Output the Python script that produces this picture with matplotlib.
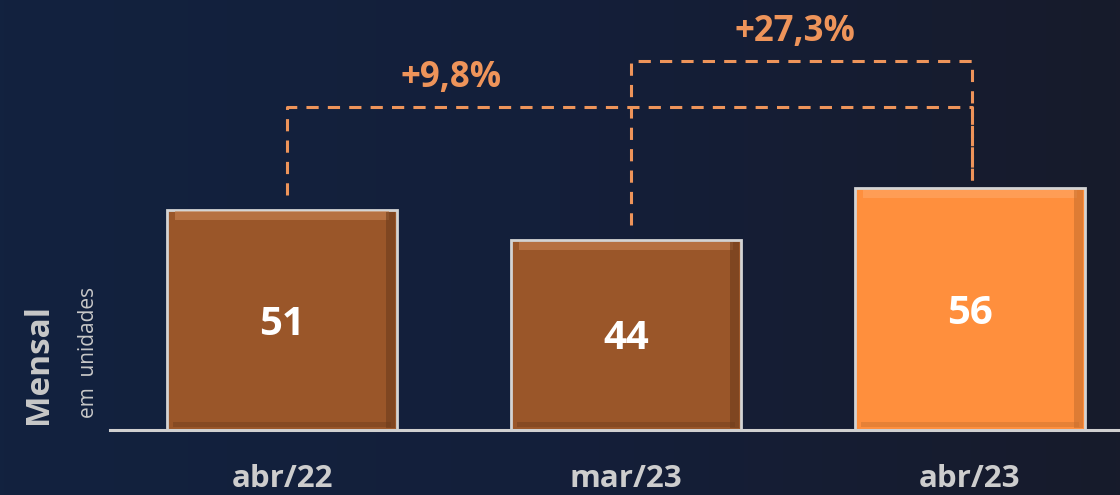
import numpy as np
import matplotlib.pyplot as plt
from matplotlib.colors import LinearSegmentedColormap

# ====== DATA ======
categories = ["abr/22", "mar/23", "abr/23"]
values = [51, 44, 56]
bar_colors = ["#9a5629", "#9a5629", "#ff8f3d"]
growth_labels = ["+9,8%", "+27,3%"]
growth_pairs = [(0, 2), (1, 2)]     # bar index from -> to
growth_levels = [74.8, 85.4]        # height of the dashed bracket
# ==================

fig = plt.figure(figsize=(11.2, 4.95), dpi=100)
ax = fig.add_axes([0, 0, 1, 1])
ax.set_xlim(-0.82, 2.436)
ax.set_ylim(-15.05, 99.5)
ax.axis("off")

# background gradient
grad = np.linspace(0, 1, 256).reshape(1, -1)
cmap = LinearSegmentedColormap.from_list("bg", ["#12223f", "#141f3a", "#171b2b"])
ax.imshow(grad, extent=[-0.82, 2.436, -15.05, 99.5], aspect="auto", cmap=cmap, zorder=0)

x = np.arange(len(categories))
w = 0.669
ax.bar(x, values, width=w, color=bar_colors, edgecolor="#d4d4d4", linewidth=2, zorder=2)

# simple bevel: light strip on top, dark strip on the right and bottom
for xi, v, c in zip(x, values, bar_colors):
    light = "#c98454" if c == "#9a5629" else "#ffa866"
    dark = "#6e3c1c" if c == "#9a5629" else "#c8702e"
    ax.bar(xi, 2.0, bottom=v - 2.4, width=w * 0.93, color=light, alpha=0.6, zorder=3, linewidth=0)
    ax.bar(xi + w / 2 - 0.02, v - 1.0, bottom=0.5, width=0.025, color=dark, alpha=0.6, zorder=3, linewidth=0)
    ax.bar(xi, 1.2, bottom=0.6, width=w * 0.95, color=dark, alpha=0.45, zorder=3, linewidth=0)

# baseline
ax.plot([-0.5, 2.436], [0, 0], color="#d0d0d0", lw=2.2, zorder=4)

# value labels
for xi, v in zip(x, values):
    ax.text(xi, v * 0.48, str(v), ha="center", va="center", color="white",
            fontsize=29, fontweight="bold", family="Open Sans", zorder=5)

# category labels
for xi, c in zip(x, categories):
    ax.text(xi, -11.4, c, ha="center", va="center", color="#cdcdcd",
            fontsize=22.5, fontweight="bold", family="Open Sans")

# growth brackets
orange = "#ee945a"
for (a, b), lvl, lab in zip(growth_pairs, growth_levels, growth_labels):
    xa = x[a] + 0.015
    xb = x[b] + 0.005
    ax.plot([xa, xa, xb, xb], [values[a] + 3.4, lvl, lvl, values[b] + 1.9],
            color=orange, lw=2.2, ls=(0, (4, 3)), zorder=4)
    ax.text(x[a] + 0.49, lvl + 6.6, lab, ha="center", va="center",
            color=orange, fontsize=25, fontweight="bold",
            family=["Liberation Sans Narrow", "Open Sans"])

# y-axis labels
fig.text(0.034, 0.265, "Mensal", rotation=90, ha="center", va="center",
         color="#c8c8c8", fontsize=24, fontweight="bold", family="Open Sans")
fig.text(0.079, 0.288, "em  unidades", rotation=90, ha="center", va="center",
         color="#c8c8c8", fontsize=15, family="Open Sans")

fig.savefig("out.png", dpi=100)
